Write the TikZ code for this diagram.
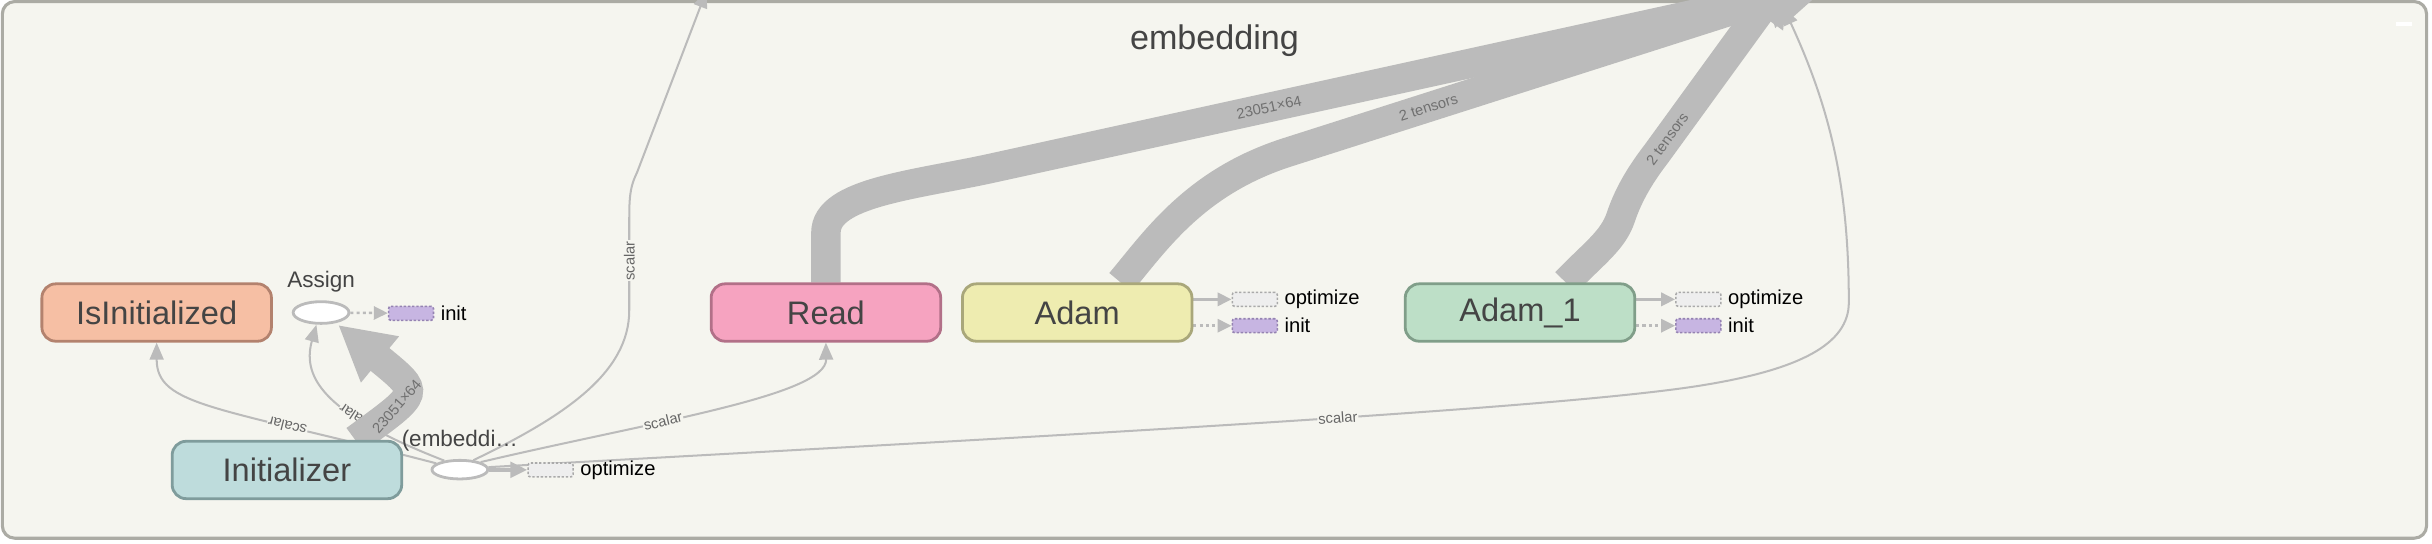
\documentclass[tikz,border=0pt]{standalone}
\usepackage{fontspec}
\setmainfont{Liberation Sans}
\usetikzlibrary{arrows.meta,shapes.geometric}
\definecolor{bgfill}{HTML}{F5F5EF}
\definecolor{framedraw}{HTML}{ABABA4}
\definecolor{edgegray}{HTML}{BBBBBB}
\definecolor{nodetext}{HTML}{444444}
\definecolor{labeltext}{HTML}{666666}
\definecolor{bandtext}{HTML}{707070}
\definecolor{isfill}{HTML}{F6BFA4}
\definecolor{isdraw}{HTML}{B3826E}
\definecolor{inifill}{HTML}{BEDCDC}
\definecolor{inidraw}{HTML}{7F9C9C}
\definecolor{readfill}{HTML}{F6A3C0}
\definecolor{readdraw}{HTML}{B27088}
\definecolor{adamfill}{HTML}{EEECB0}
\definecolor{adamdraw}{HTML}{A9A77A}
\definecolor{aonefill}{HTML}{BDDFC7}
\definecolor{aonedraw}{HTML}{809E89}
\definecolor{initfill}{HTML}{C7B5E2}
\definecolor{initdraw}{HTML}{9583B2}
\definecolor{optfill}{HTML}{EEEEEE}
\definecolor{optdraw}{HTML}{AAAAAA}
\pgfdeclarelayer{frame}
\pgfdeclarelayer{edges}
\pgfsetlayers{frame,edges,main}
\tikzset{
  groupframe/.style={draw=framedraw, fill=bgfill, line width=2pt, rounded corners=8pt},
  grouptitle/.style={font=\fontsize{22}{22}\selectfont, text=nodetext},
  opnode/.style={rounded corners=9pt, minimum width=148pt, minimum height=37pt,
    line width=1.8pt, inner sep=0pt, text=nodetext, font=\fontsize{21}{21}\selectfont},
  varnode/.style={ellipse, draw=edgegray, fill=white, line width=1.8pt,
    minimum width=36pt, minimum height=12pt, inner sep=0pt},
  varlabel/.style={font=\fontsize{14.5}{14.5}\selectfont, text=nodetext, inner sep=1pt, label distance=4pt},
  initslot/.style={draw=initdraw, fill=initfill, dash pattern=on 1.5pt off 1.2pt, line width=1pt,
    rounded corners=1.5pt, minimum width=29pt, minimum height=9pt, inner sep=0pt},
  optslot/.style={initslot, draw=optdraw, fill=optfill},
  slotlabel/.style={font=\fontsize{13}{13}\selectfont, text=black, inner sep=1pt, label distance=3pt},
  dataflow/.style={draw=edgegray, line width=1.3pt, -{Triangle[length=11pt,width=9pt]}},
  ctrlflow/.style={draw=edgegray, line width=2pt, -{Triangle[length=9pt,width=8.5pt]}},
  dotflow/.style={draw=edgegray, line width=1.6pt, dash pattern=on 2pt off 2pt, -{Triangle[length=9pt,width=8.5pt]}},
  band/.style={draw=edgegray, line width=19pt, -{Triangle[length=35pt,width=36pt]}},
  edgelabel/.style={font=\fontsize{9.5}{9.5}\selectfont, text=labeltext, fill=bgfill, inner sep=0.6pt, sloped},
  bandlabel/.style={font=\fontsize{9.5}{9.5}\selectfont, text=bandtext, inner sep=0pt, sloped}
}
\begin{document}
\begin{tikzpicture}[x=1pt,y=-1pt]
  \useasboundingbox (0,0) rectangle (1568,350.7);
  \begin{pgfonlayer}{frame}
    \draw[groupframe] (1.5,1) rectangle (1564.5,347);
    \fill[white] (1544.6,14) rectangle (1555.2,16.5);
  \end{pgfonlayer}
  \node[grouptitle] (grp) at (783,26) {embedding};

  % ops
  \node[opnode, fill=isfill, draw=isdraw] (isinit) at (101,201.5) {IsInitialized};
  \node[opnode, fill=inifill, draw=inidraw] (init) at (185,303) {Initializer};
  \node[opnode, fill=readfill, draw=readdraw] (read) at (532.5,201.5) {Read};
  \node[opnode, fill=adamfill, draw=adamdraw] (adam) at (694.5,201.5) {Adam};
  \node[opnode, fill=aonefill, draw=aonedraw] (adam1) at (980,201.5) {Adam\_1};
  \node[varnode, minimum height=14pt, label={[varlabel]above:Assign}] (assign) at (207,201.5) {};
  \node[varnode, label={[varlabel]above:{(embeddi…}}] (var) at (296.5,302.8) {};

  % control slots
  \node[initslot, label={[slotlabel]right:init}] (asinit) at (265,202) {};
  \node[optslot, label={[slotlabel]right:optimize}] (varopt) at (355,303) {};
  \node[optslot, label={[slotlabel]right:optimize}] (adopt) at (809,193) {};
  \node[initslot, label={[slotlabel]right:init}] (adinit) at (809,210) {};
  \node[optslot, label={[slotlabel]right:optimize}] (aoneopt) at (1095,193) {};
  \node[initslot, label={[slotlabel]right:init}] (aoneinit) at (1095,210) {};

  \coordinate (varout) at (455.5,-6);
  \coordinate (gradin) at (1150,5);
  \coordinate (readtip) at (1180,-10);
  \coordinate (adamtip) at (1172,-11);
  \coordinate (aonetip) at (1154.5,-20);

  \begin{pgfonlayer}{edges}
    \draw[dataflow] (var.165) .. controls (140,262) and (101,262) .. (isinit.south)
      node[edgelabel, allow upside down, pos=0.28] {scalar};
    \draw[dataflow] (var.150) .. controls (212,268) and (194,245) .. ([xshift=-3pt]assign.south)
      node[edgelabel, allow upside down, pos=0.33] {scalar};
    \draw[dataflow] (var.20) .. controls (420,272) and (533,255) .. (read.south)
      node[edgelabel, pos=0.37] {scalar};
    \draw[dataflow] (var.35) .. controls (365,268) and (405.7,240) .. (405.7,200) -- (405.7,140)
      node[edgelabel, pos=0.53] {scalar}
      .. controls (405.7,124) and (407,119) .. (410.8,111) -- (varout);
    \draw[dataflow] (var.5) .. controls (600,285) and (1000,265) .. (1100,248)
      node[edgelabel, pos=0.6] {scalar}
      .. controls (1160,238) and (1192,222) .. (1192,195)
      .. controls (1192,120) and (1180,70) .. (gradin);
    \draw[dotflow] (assign) -- (asinit);
    \draw[ctrlflow, line width=2.6pt, -{Triangle[length=11pt,width=10pt]}] (var) -- (varopt);
    \draw[ctrlflow] (adam.east |- adopt) -- (adopt);
    \draw[dotflow] (adam.east |- adinit) -- (adinit);
    \draw[ctrlflow] (adam1.east |- aoneopt) -- (aoneopt);
    \draw[dotflow] (adam1.east |- aoneinit) -- (aoneinit);
    % thick tensors
    \draw[band] ([xshift=44pt]init.north) .. controls (272,252) and (272,254) .. ([xshift=11pt,yshift=-8pt]assign.center)
      node[bandlabel, pos=0.3] {23051×64};
    \draw[band] (read.north) -- (532.5,150) .. controls (532.5,124) and (590,119.3) .. (640,108.3) -- (readtip)
      node[bandlabel, pos=0.33] {23051×64};
    \draw[band] ([xshift=28pt]adam.north) .. controls (744.5,156) and (770,117.4) .. (830,98.2) -- (adamtip)
      node[bandlabel, pos=0.266] {2 tensors};
    \draw[band] ([xshift=29.5pt]adam1.north) .. controls (1028,163) and (1040,155) .. (1045,140)
      .. controls (1050,125) and (1058,112) .. (1068,99) -- (aonetip)
      node[bandlabel, pos=0.08] {2 tensors};
  \end{pgfonlayer}
\end{tikzpicture}
\end{document}
